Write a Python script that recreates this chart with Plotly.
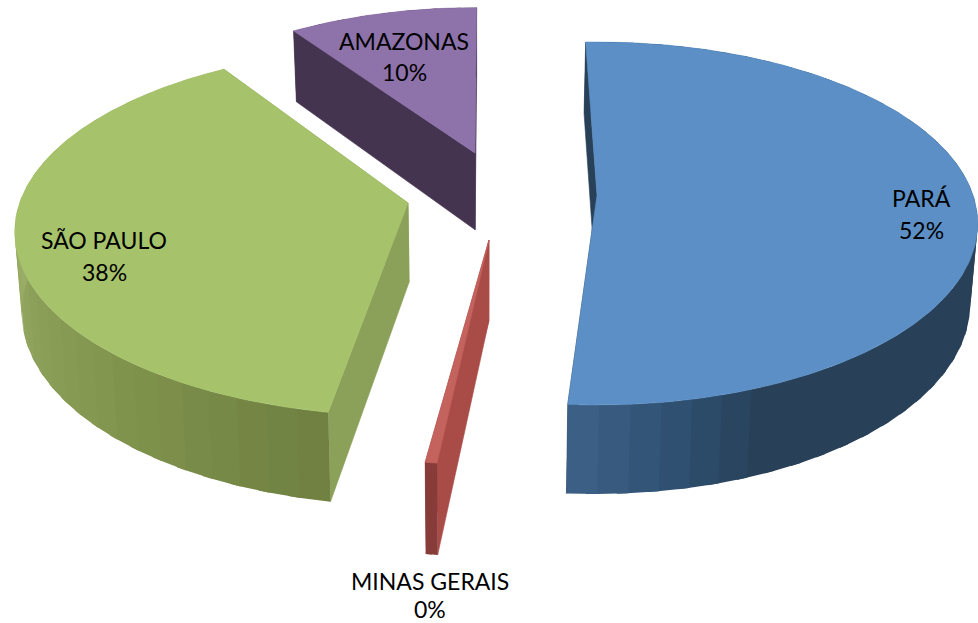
import math
import plotly.graph_objects as go

# ---- data -------------------------------------------------------------
states = ["PARÁ", "MINAS GERAIS", "SÃO PAULO", "AMAZONAS"]
shares = [51.6, 0.4, 38.2, 9.8]

# ---- style / geometry ---------------------------------------------------
TOP = ["#5b8fc5", "#c4625d", "#a6c36b", "#8e72aa"]
CUT = ["#284058", "#a94c48", "#8ba058", "#443450"]
WALL = [
    [(60, "#284058"), (158, "#284058"), (165, "#2a4a68"), (185.5, "#3f648c")],
    [(0, "#873c39"), (360, "#873c39")],
    [(190, "#6f8040"), (225, "#83964f"), (270, "#9bae68"), (330, "#9bae68")],
    [(0, "#443450"), (360, "#443450")],
]
APEX = [(597, 195), (489, 240), (408, 203), (475, 153)]
SCALE_X = [1.0, 1.07, 1.033, 0.95]
SCALE_Y = [1.0, 1.07, 1.015, 0.95]
SKEW = [-0.5, 2.0, 4.3, 1.8]
LABEL_POS = [(921, 198), (430, 581), (104, 240), (404, 41)]
LABEL_GAP = [32, 28, 32, 31]
START = -1.5
R, RY, K = 376, 177, 0.157
VX, SHRINK = 480, 0.985


def top_pt(t, i):
    a = math.radians(t)
    u, v = math.sin(a), math.cos(a)
    d = 1 + K * v
    return APEX[i][0] + R * u * SCALE_X[i] / d, APEX[i][1] - RY * v * SCALE_Y[i] / d


def drop(p):
    x, y = p
    return VX + (x - VX) * SHRINK, y + 81 + (y - 240) * 0.0486


def rgb(c):
    return [int(c[j:j + 2], 16) for j in (1, 3, 5)]


def wall_colour(stops, t):
    if t <= stops[0][0]:
        return stops[0][1]
    for (t0, c0), (t1, c1) in zip(stops, stops[1:]):
        if t <= t1:
            f = (t - t0) / (t1 - t0)
            m = [round(a + (b - a) * f) for a, b in zip(rgb(c0), rgb(c1))]
            return "#%02x%02x%02x" % tuple(m)
    return stops[-1][1]


fig = go.Figure()


def poly(pts, colour, width=0.6):
    xs = [p[0] for p in pts] + [pts[0][0]]
    ys = [p[1] for p in pts] + [pts[0][1]]
    fig.add_trace(go.Scatter(x=xs, y=ys, mode="lines", fill="toself", fillcolor=colour,
                             line=dict(color=colour, width=width), hoverinfo="skip",
                             showlegend=False))


total = sum(shares)
ranges, cur = [], START
for val in shares:
    ranges.append((cur, cur + val / total * 360))
    cur += val / total * 360

for i in [3, 2, 0, 1]:
    t0, t1 = ranges[i][0] + SKEW[i], ranges[i][1] + SKEW[i]
    apex_b = drop(APEX[i])
    a, b = top_pt(t0, i), top_pt(t1, i)
    # radial cut walls
    poly([a, drop(a), apex_b, APEX[i]], CUT[i])
    poly([b, drop(b), apex_b, APEX[i]], CUT[i])
    # outer wall, overlapping narrow strips drawn from the far end to the near end
    n = max(2, int((t1 - t0) / 4))
    width = (t1 - t0) / n
    for j in range(n):
        s0 = t0 + width * j
        s1 = min(t1, s0 + width + 1.5)
        # several points per strip so its edge follows the curve
        arc = [top_pt(s0 + (s1 - s0) * q / 4, i) for q in range(5)]
        poly(arc + [drop(p) for p in reversed(arc)],
             wall_colour(WALL[i], s0 + width / 2), width=0)
    # top face
    steps = max(2, int(t1 - t0))
    arc = [top_pt(t0 + (t1 - t0) * j / steps, i) for j in range(steps + 1)]
    poly([APEX[i]] + arc, TOP[i])

annotations = []
for name, val, (lx, ly), gap in zip(states, shares, LABEL_POS, LABEL_GAP):
    for k, line in enumerate([name, f"{round(val)}%"]):
        annotations.append(dict(x=lx, y=ly + k * gap, text=line, showarrow=False,
                                xanchor="center", yanchor="middle",
                                font=dict(family="Lato", size=23, color="#000000")))

fig.update_layout(
    width=978, height=623, margin=dict(l=0, r=0, t=0, b=0),
    paper_bgcolor="white", plot_bgcolor="white", showlegend=False,
    xaxis=dict(range=[0, 978], visible=False, fixedrange=True),
    yaxis=dict(range=[623, 0], visible=False, fixedrange=True),
    annotations=annotations,
)
fig.write_html("out.html", config={"displayModeBar": False},
               post_script="document.body.style.margin='0';document.body.style.overflow='hidden';")
